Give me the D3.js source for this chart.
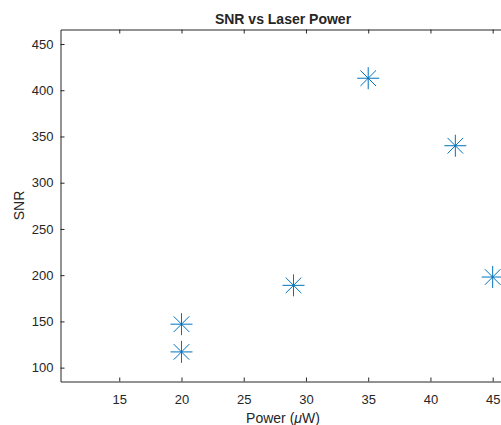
<!DOCTYPE html>
<html>
<head>
<meta charset="utf-8">
<script src="https://cdn.jsdelivr.net/npm/d3@7"></script>
<style>
  body { margin: 0; background: #fff; }
  svg { display: block; overflow: hidden; }
  text { font-family: "Liberation Sans", Arial, sans-serif; fill: #262626; }
</style>
</head>
<body>
<div id="grafico"></div>
<script>
// data
const power = [20, 20, 29, 35, 42, 45]
const snr = [117, 147, 189, 413, 340, 198]
const xTicks = [15, 20, 25, 30, 35, 40, 45]
const yTicks = [100, 150, 200, 250, 300, 350, 400, 450]

const ancho = 501
const alto = 425
const margen = { izquierdo: 60.5, superior: 29.5, derecho: 505.5, inferior: 381.5 }

const svg = d3.select("#grafico")
    .append("svg")
    .attr("width", ancho)
    .attr("height", alto)

const x = d3.scaleLinear()
    .domain([10.28, 46.03])
    .range([margen.izquierdo, margen.derecho])

const y = d3.scaleLinear()
    .domain([85, 465.7])
    .range([margen.inferior, margen.superior])

const ejeColor = "#262626"

// bottom axis, ticks pointing inside
const gx = svg.append("g")
    .attr("transform", "translate(0," + margen.inferior + ")")
    .call(d3.axisBottom(x).tickValues(xTicks).tickSizeInner(-4).tickSizeOuter(0).tickPadding(13))
gx.select(".domain").attr("stroke", ejeColor)
gx.selectAll(".tick line").attr("stroke", ejeColor)
gx.selectAll(".tick text").style("font-size", "13px").attr("fill", ejeColor)

// top mirrored ticks
const gxt = svg.append("g")
    .attr("transform", "translate(0," + margen.superior + ")")
    .call(d3.axisTop(x).tickValues(xTicks).tickSizeInner(-4).tickSizeOuter(0).tickFormat(""))
gxt.select(".domain").attr("stroke", ejeColor)
gxt.selectAll(".tick line").attr("stroke", ejeColor)

// left axis
const gy = svg.append("g")
    .attr("transform", "translate(" + margen.izquierdo + ",0)")
    .call(d3.axisLeft(y).tickValues(yTicks).tickSizeInner(-4).tickSizeOuter(0).tickPadding(7))
gy.select(".domain").attr("stroke", ejeColor)
gy.selectAll(".tick line").attr("stroke", ejeColor)
gy.selectAll(".tick text").style("font-size", "13px").attr("fill", ejeColor)

// asterisk markers
const r = 11
const rd = 7.8
const asterisco = "M" + (-r) + ",0H" + r + "M0," + (-r) + "V" + r +
    "M" + (-rd) + "," + (-rd) + "L" + rd + "," + rd +
    "M" + (-rd) + "," + rd + "L" + rd + "," + (-rd)

svg.selectAll(".punto")
    .data(power)
    .enter().append("path")
    .attr("class", "punto")
    .attr("transform", function (d, i) { return "translate(" + x(d) + "," + y(snr[i]) + ")" })
    .attr("d", asterisco)
    .attr("fill", "none")
    .attr("stroke", "#0072BD")
    .attr("stroke-width", 1)

// title and labels
svg.append("text")
    .attr("x", (margen.izquierdo + margen.derecho) / 2)
    .attr("y", 24)
    .attr("text-anchor", "middle")
    .style("font-size", "14px")
    .style("font-weight", "bold")
    .attr("fill", "#000")
    .text("SNR vs Laser Power")

const xl = svg.append("text")
    .attr("x", (margen.izquierdo + margen.derecho) / 2)
    .attr("y", 423)
    .attr("text-anchor", "middle")
    .style("font-size", "14px")
xl.append("tspan").text("Power (")
xl.append("tspan").style("font-style", "italic").text("\u03bc")
xl.append("tspan").text("W)")

svg.append("text")
    .attr("transform", "translate(24," + (margen.superior + margen.inferior) / 2 + ") rotate(-90)")
    .attr("text-anchor", "middle")
    .style("font-size", "14px")
    .text("SNR")
</script>
</body>
</html>
